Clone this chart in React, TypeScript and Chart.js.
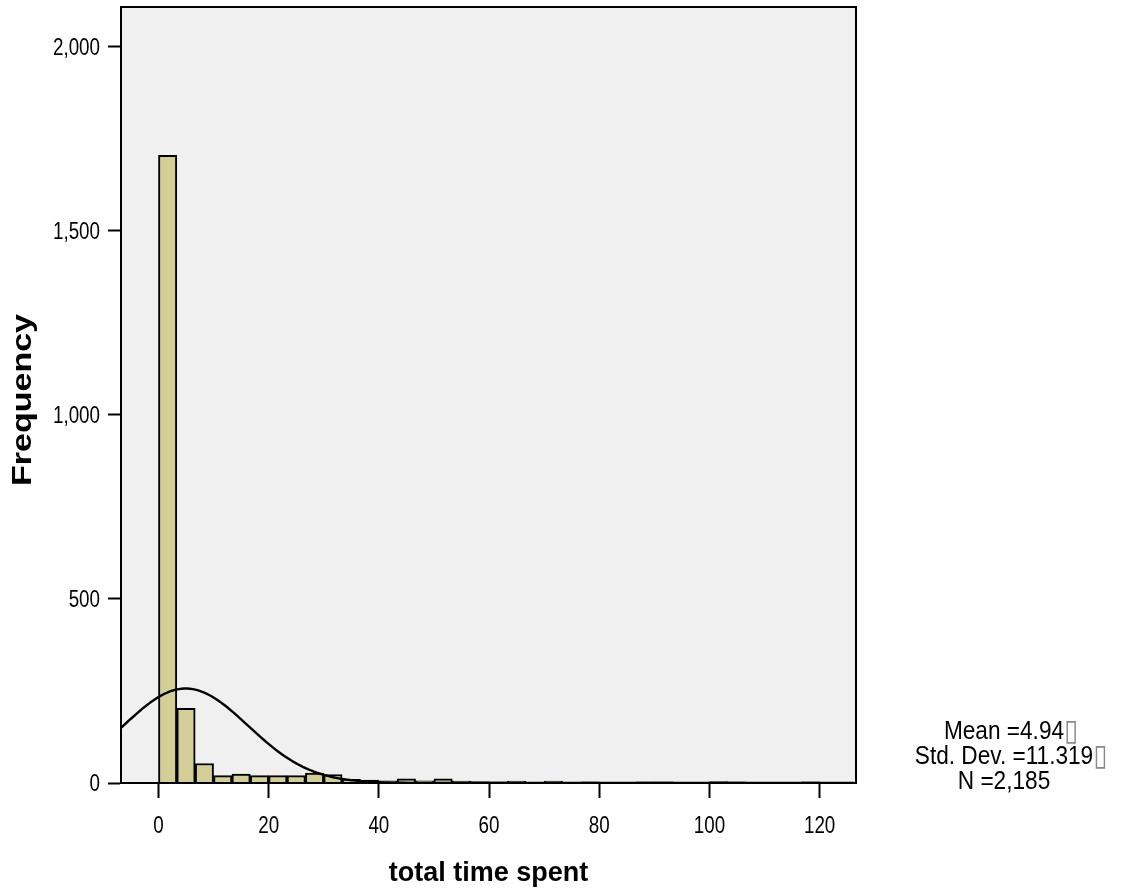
import React, { useEffect, useRef } from 'react';
import { Chart, registerables } from 'chart.js';

Chart.register(...registerables);

// ---- data ----
const BIN_WIDTH = 10 / 3;
const BIN_COUNTS = [
  1705, 203, 53, 20, 24, 20, 20, 20, 27, 23,
  10, 8, 6, 11, 6, 11, 5, 4, 3, 5,
  2, 5, 2, 3, 1, 1, 3, 3, 1, 1,
  4, 3, 1, 1, 0, 3, 1, 0,
];
const X_TICKS = [0, 20, 40, 60, 80, 100, 120];
const Y_TICKS = [0, 500, 1000, 1500, 2000];
const MEAN = 4.94;
const SD = 11.319;
const N = 2185;
const X_MIN = -6.8;
const X_MAX = 126.6;
const Y_MAX = 2108;
const STATS_LINES = ['Mean =4.94', 'Std. Dev. =11.319', 'N =2,185'];
const STATS_TOFU = [true, true, false];
const X_TITLE = 'total time spent';
const Y_TITLE = 'Frequency';

const SANS = "'Liberation Sans', Arial, sans-serif";

// fitted normal curve (from the stated mean / sd / N)
const CURVE_STEP = 0.5;
const curvePoints: { x: number; y: number }[] = [];
for (let x = X_MIN; x <= X_MAX + 1e-9; x += CURVE_STEP) {
  const z = (x - MEAN) / SD;
  const y = (N * BIN_WIDTH) / (SD * Math.sqrt(2 * Math.PI)) * Math.exp(-0.5 * z * z);
  curvePoints.push({ x, y });
}

function squashText(ctx: any, text: string, x: number, y: number, sx: number, align: 'left' | 'center' | 'right') {
  ctx.save();
  ctx.translate(x, y);
  ctx.scale(sx, 1);
  ctx.textAlign = align;
  ctx.textBaseline = 'alphabetic';
  ctx.fillText(text, 0, 0);
  ctx.restore();
}

const decorPlugin = {
  id: 'decor',
  beforeDraw(chart: any) {
    const { ctx, chartArea } = chart;
    const { left, top, right, bottom } = chartArea;
    ctx.save();
    ctx.fillStyle = '#F0F0F0';
    ctx.fillRect(left, top, right - left, bottom - top);
    ctx.restore();
  },
  afterDatasetsDraw(chart: any) {
    const { ctx, chartArea } = chart;
    const { left, top, right, bottom } = chartArea;
    ctx.save();
    ctx.strokeStyle = '#000';
    ctx.lineWidth = 2;
    ctx.strokeRect(left, top, right - left, bottom - top);
    ctx.restore();
  },
  afterDraw(chart: any) {
    const { ctx, chartArea, scales } = chart;
    ctx.save();
    ctx.fillStyle = '#000';

    // tick labels (condensed look)
    ctx.font = `23.5px ${SANS}`;
    const xs = scales.x;
    X_TICKS.forEach((v) => {
      squashText(ctx, String(v), xs.getPixelForValue(v), 833, 0.8, 'center');
    });
    const ys = scales.y;
    Y_TICKS.forEach((v) => {
      squashText(ctx, v.toLocaleString('en-US'), 100, ys.getPixelForValue(v) + 8.4, 0.8, 'right');
    });

    // x title
    ctx.font = `bold 27px ${SANS}`;
    ctx.textAlign = 'center';
    ctx.textBaseline = 'alphabetic';
    ctx.fillText(X_TITLE, (chartArea.left + chartArea.right) / 2, 881);

    // y title
    ctx.save();
    ctx.font = `bold 34px ${SANS}`;
    ctx.translate(31, 400);
    ctx.rotate(-Math.PI / 2);
    ctx.scale(1, 0.79);
    ctx.textAlign = 'center';
    ctx.fillText(Y_TITLE, 0, 0);
    ctx.restore();

    // stats
    const cx = 1004;
    const baselines = [739, 764, 789];
    const sx = 0.87;
    STATS_LINES.forEach((line, i) => {
      ctx.fillStyle = '#000';
      ctx.font = `26px ${SANS}`;
      const w = ctx.measureText(line).width * sx;
      squashText(ctx, line, cx, baselines[i], sx, 'center');
      if (STATS_TOFU[i]) {
        ctx.fillStyle = '#8a8a8a';
        ctx.font = `30px 'DejaVu Sans', sans-serif`;
        squashText(ctx, '\u25AF', cx + w / 2, baselines[i] + 1, 0.85, 'left');
      }
    });
    ctx.restore();
  },
};

export default function App() {
  const canvasRef = useRef<HTMLCanvasElement | null>(null);

  useEffect(() => {
    if (!canvasRef.current) return;
    const chart = new Chart(canvasRef.current, {
      type: 'bar',
      data: {
        datasets: [
          {
            type: 'line',
            data: curvePoints,
            borderColor: '#000',
            borderWidth: 2.4,
            pointRadius: 0,
            fill: false,
            tension: 0,
            order: 0,
          } as any,
          {
            type: 'bar',
            data: BIN_COUNTS.map((c, i) => ({ x: (i + 0.5) * BIN_WIDTH, y: c })),
            backgroundColor: '#D3CE98',
            borderColor: '#000',
            borderWidth: 2,
            barPercentage: 1,
            categoryPercentage: 1,
            order: 1,
          } as any,
        ],
      },
      options: {
        animation: false,
        responsive: false,
        events: [],
        layout: { padding: { top: 7, right: 265, left: 0, bottom: 0 } },
        plugins: { legend: { display: false }, tooltip: { enabled: false } },
        scales: {
          x: {
            type: 'linear',
            min: X_MIN,
            max: X_MAX,
            offset: false,
            grid: { display: true, offset: false, drawOnChartArea: false, drawTicks: true, tickLength: 15, tickWidth: 2, tickColor: '#000' },
            border: { display: true, color: '#000', width: 2 },
            ticks: { display: false, autoSkip: false },
            afterBuildTicks: (scale: any) => { scale.ticks = X_TICKS.map((v) => ({ value: v })); },
            afterFit: (scale: any) => { scale.height = 113; scale.paddingLeft = 0; scale.paddingRight = 0; },
          },
          y: {
            type: 'linear',
            min: 0,
            max: Y_MAX,
            grid: { display: true, offset: false, drawOnChartArea: false, drawTicks: true, tickLength: 13, tickWidth: 2, tickColor: '#000' },
            border: { display: true, color: '#000', width: 2 },
            ticks: { display: false, autoSkip: false },
            afterBuildTicks: (scale: any) => { scale.ticks = Y_TICKS.map((v) => ({ value: v })); },
            afterFit: (scale: any) => { scale.width = 121; scale.paddingTop = 0; scale.paddingBottom = 0; },
          },
        },
      },
      plugins: [decorPlugin],
    } as any);
    return () => chart.destroy();
  }, []);

  return (
    <div style={{ position: 'fixed', left: 0, top: 0, width: 1121, height: 896, background: '#fff' }}>
      <canvas ref={canvasRef} width={1121} height={896} style={{ display: 'block' }} />
    </div>
  );
}
